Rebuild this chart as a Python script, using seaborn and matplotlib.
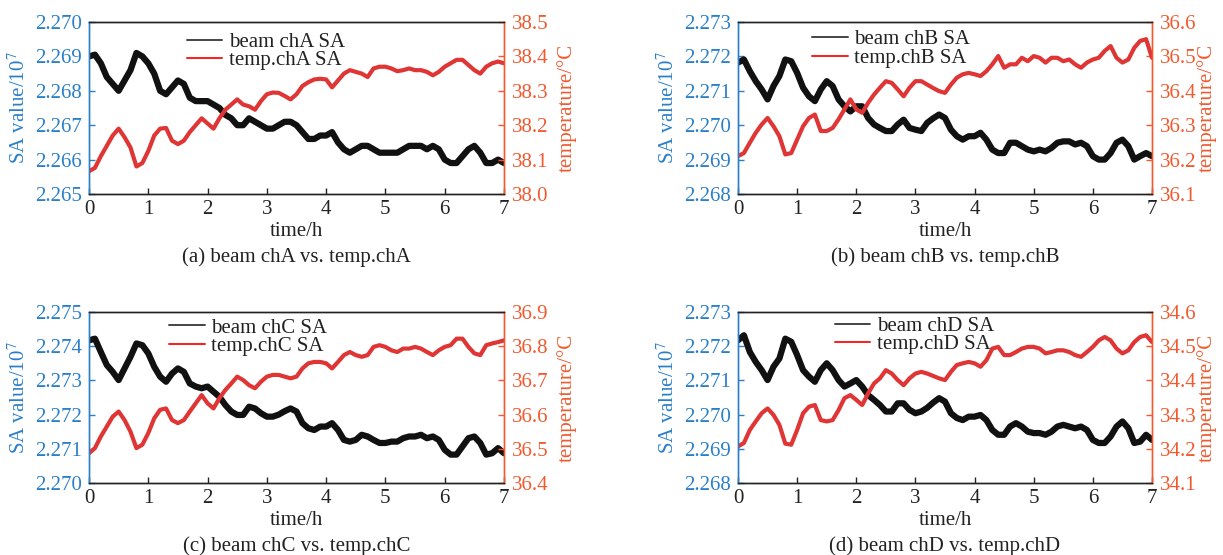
import numpy as np
import pandas as pd
import matplotlib
matplotlib.use("Agg")
import matplotlib.pyplot as plt
import seaborn as sns

# ---------------- data ----------------
time_h = np.round(np.arange(71) * 0.1, 1)

sa_chA = [2.2690, 2.26905, 2.2688, 2.2684, 2.2682, 2.2680, 2.2683, 2.2686, 2.2691, 2.2690,
          2.2688, 2.2685, 2.2680, 2.2679, 2.2681, 2.2683, 2.2682, 2.2678, 2.2677, 2.2677,
          2.2677, 2.2676, 2.2675, 2.2673, 2.2672, 2.2670, 2.2670, 2.2672, 2.2671, 2.2670,
          2.2669, 2.2669, 2.2670, 2.2671, 2.2671, 2.2670, 2.2668, 2.2666, 2.2666, 2.2667,
          2.2667, 2.2668, 2.2665, 2.2663, 2.2662, 2.2663, 2.2664, 2.2664, 2.2663, 2.2662,
          2.2662, 2.2662, 2.2662, 2.2663, 2.2664, 2.2664, 2.2664, 2.2663, 2.2664, 2.2663,
          2.2660, 2.2659, 2.2659, 2.2661, 2.2663, 2.2664, 2.2662, 2.2659, 2.2659, 2.2660,
          2.2659]
temp_chA = [38.066, 38.076, 38.110, 38.140, 38.170, 38.190, 38.165, 38.135, 38.080, 38.090,
            38.125, 38.170, 38.190, 38.192, 38.155, 38.145, 38.155, 38.180, 38.200, 38.220,
            38.205, 38.190, 38.220, 38.245, 38.260, 38.275, 38.260, 38.255, 38.245, 38.270,
            38.290, 38.295, 38.294, 38.285, 38.275, 38.290, 38.314, 38.325, 38.333, 38.335,
            38.333, 38.310, 38.330, 38.350, 38.360, 38.355, 38.350, 38.340, 38.365, 38.370,
            38.370, 38.365, 38.357, 38.360, 38.365, 38.360, 38.360, 38.355, 38.345, 38.355,
            38.370, 38.380, 38.390, 38.390, 38.375, 38.360, 38.350, 38.370, 38.380, 38.385,
            38.380]

sa_chB = [2.27182, 2.27191, 2.27157, 2.27128, 2.27104, 2.27075, 2.27114, 2.27143, 2.27191, 2.27186,
          2.27152, 2.27109, 2.27084, 2.27070, 2.27104, 2.27128, 2.27114, 2.27075, 2.27055, 2.27040,
          2.27055, 2.27055, 2.27021, 2.27002, 2.26992, 2.26983, 2.26983, 2.27002, 2.27016, 2.26992,
          2.26987, 2.26983, 2.27007, 2.27020, 2.27031, 2.27021, 2.26987, 2.26968, 2.26958, 2.26968,
          2.26968, 2.26978, 2.26958, 2.26929, 2.26919, 2.26919, 2.26949, 2.26949, 2.26939, 2.26929,
          2.26924, 2.26929, 2.26924, 2.26934, 2.26949, 2.26953, 2.26953, 2.26944, 2.26949, 2.26939,
          2.26910, 2.26900, 2.26900, 2.26919, 2.26949, 2.26958, 2.26939, 2.26900, 2.26910, 2.26919,
          2.26910]
temp_chB = [36.210, 36.219, 36.249, 36.278, 36.302, 36.321, 36.297, 36.268, 36.215, 36.219,
            36.258, 36.297, 36.321, 36.331, 36.283, 36.283, 36.292, 36.317, 36.346, 36.375,
            36.346, 36.336, 36.365, 36.389, 36.409, 36.428, 36.423, 36.404, 36.384, 36.409,
            36.428, 36.428, 36.418, 36.408, 36.399, 36.394, 36.418, 36.438, 36.448, 36.452,
            36.448, 36.443, 36.457, 36.477, 36.501, 36.467, 36.477, 36.477, 36.496, 36.486,
            36.501, 36.496, 36.482, 36.496, 36.496, 36.486, 36.491, 36.477, 36.467, 36.482,
            36.491, 36.496, 36.516, 36.530, 36.496, 36.482, 36.491, 36.525, 36.545, 36.550,
            36.496]

sa_chC = [2.27417, 2.27422, 2.27383, 2.27345, 2.27325, 2.27301, 2.27335, 2.27369, 2.27408, 2.27403,
          2.27379, 2.27340, 2.27311, 2.27296, 2.27320, 2.27335, 2.27325, 2.27291, 2.27282, 2.27277,
          2.27282, 2.27267, 2.27252, 2.27228, 2.27209, 2.27199, 2.27199, 2.27223, 2.27218, 2.27204,
          2.27194, 2.27194, 2.27200, 2.27210, 2.27218, 2.27209, 2.27175, 2.27160, 2.27155, 2.27165,
          2.27165, 2.27175, 2.27155, 2.27126, 2.27121, 2.27126, 2.27141, 2.27136, 2.27126, 2.27117,
          2.27117, 2.27121, 2.27121, 2.27131, 2.27136, 2.27136, 2.27141, 2.27131, 2.27136, 2.27126,
          2.27097, 2.27083, 2.27083, 2.27107, 2.27131, 2.27136, 2.27117, 2.27083, 2.27087, 2.27102,
          2.27087]
temp_chC = [36.487, 36.502, 36.536, 36.565, 36.594, 36.609, 36.584, 36.550, 36.502, 36.512,
            36.546, 36.589, 36.614, 36.618, 36.584, 36.575, 36.584, 36.609, 36.633, 36.657,
            36.633, 36.618, 36.648, 36.672, 36.691, 36.711, 36.701, 36.686, 36.677, 36.696,
            36.711, 36.716, 36.716, 36.711, 36.706, 36.711, 36.735, 36.750, 36.754, 36.754,
            36.750, 36.735, 36.754, 36.774, 36.783, 36.774, 36.769, 36.774, 36.798, 36.803,
            36.798, 36.788, 36.783, 36.793, 36.793, 36.798, 36.793, 36.783, 36.774, 36.788,
            36.798, 36.803, 36.822, 36.822, 36.798, 36.779, 36.774, 36.803, 36.808, 36.812,
            36.817]

sa_chD = [2.27217, 2.27232, 2.27183, 2.27154, 2.27130, 2.27101, 2.27140, 2.27164, 2.27222, 2.27213,
          2.27174, 2.27130, 2.27111, 2.27096, 2.27130, 2.27150, 2.27130, 2.27101, 2.27082, 2.27091,
          2.27101, 2.27082, 2.27057, 2.27043, 2.27028, 2.27009, 2.27009, 2.27033, 2.27033, 2.27014,
          2.27004, 2.27009, 2.27020, 2.27035, 2.27048, 2.27038, 2.27004, 2.26990, 2.26984, 2.26994,
          2.26994, 2.26999, 2.26984, 2.26955, 2.26941, 2.26941, 2.26965, 2.26975, 2.26965, 2.26950,
          2.26946, 2.26946, 2.26941, 2.26950, 2.26965, 2.26970, 2.26965, 2.26960, 2.26965, 2.26955,
          2.26926, 2.26917, 2.26917, 2.26936, 2.26965, 2.26980, 2.26960, 2.26917, 2.26921, 2.26941,
          2.26926]
temp_chD = [34.207, 34.217, 34.255, 34.280, 34.304, 34.318, 34.299, 34.270, 34.215, 34.212,
            34.255, 34.304, 34.323, 34.328, 34.284, 34.280, 34.284, 34.313, 34.348, 34.357,
            34.343, 34.328, 34.362, 34.391, 34.406, 34.430, 34.420, 34.401, 34.386, 34.406,
            34.420, 34.425, 34.420, 34.413, 34.406, 34.401, 34.425, 34.445, 34.450, 34.454,
            34.450, 34.440, 34.459, 34.493, 34.498, 34.474, 34.474, 34.483, 34.493, 34.498,
            34.498, 34.493, 34.479, 34.483, 34.488, 34.488, 34.483, 34.474, 34.469, 34.483,
            34.498, 34.517, 34.527, 34.517, 34.493, 34.479, 34.488, 34.512, 34.527, 34.532,
            34.512]

channels = ["chA", "chB", "chC", "chD"]
panel_letters = ["a", "b", "c", "d"]
sa_series = [sa_chA, sa_chB, sa_chC, sa_chD]
temp_series = [temp_chA, temp_chB, temp_chC, temp_chD]
sa_limits = [(2.265, 2.270), (2.268, 2.273), (2.270, 2.275), (2.268, 2.273)]
temp_limits = [(38.0, 38.5), (36.1, 36.6), (36.4, 36.9), (34.1, 34.6)]
x_ticks = [0, 1, 2, 3, 4, 5, 6, 7]

# ---------------- style ----------------
sns.set_theme(style="white")
plt.rcParams["font.family"] = ["Liberation Serif", "DejaVu Serif"]
plt.rcParams["mathtext.fontset"] = "stix"

BLUE = "#2a7fc9"
ORANGE = "#f2592e"
RED = "#e03535"
BLACK = "#111111"
FS = 15

fig = plt.figure(figsize=(12.23, 5.55), dpi=100)

# axes rectangles [left, bottom, width, height] in figure fraction
rects = [
    [89 / 1223, 1 - 194 / 555, 415 / 1223, 172 / 555],
    [738 / 1223, 1 - 194 / 555, 414 / 1223, 172 / 555],
    [89 / 1223, 1 - 483 / 555, 415 / 1223, 171 / 555],
    [738 / 1223, 1 - 483 / 555, 414 / 1223, 171 / 555],
]
legend_anchor = [(0.236, 0.94), (0.179, 0.955), (0.193, 0.965), (0.234, 0.975)]
right_label_x = [1.152, 1.133, 1.152, 1.133]

for i in range(4):
    ax = fig.add_axes(rects[i])
    ax2 = ax.twinx()
    ch = channels[i]
    df = pd.DataFrame({"time": time_h, "sa": sa_series[i], "temp": temp_series[i]})

    sns.lineplot(data=df, x="time", y="sa", ax=ax, color=BLACK, lw=4.5,
                 estimator=None, label=f"beam {ch} SA", legend=False)
    sns.lineplot(data=df, x="time", y="temp", ax=ax2, color=RED, lw=3.0,
                 estimator=None, label=f"temp.{ch} SA", legend=False)

    ax.set_xlim(0, 7)
    ax.set_ylim(*sa_limits[i])
    ax2.set_ylim(*temp_limits[i])
    ax.set_xticks(x_ticks)
    lo, hi = sa_limits[i]
    ax.set_yticks(np.round(np.linspace(lo, hi, 6), 3))
    ax.yaxis.set_major_formatter(matplotlib.ticker.FormatStrFormatter("%.3f"))
    tlo, thi = temp_limits[i]
    ax2.set_yticks(np.round(np.linspace(tlo, thi, 6), 1))
    ax2.yaxis.set_major_formatter(matplotlib.ticker.FormatStrFormatter("%.1f"))

    # spines
    for a in (ax, ax2):
        a.spines["top"].set_color("#222222")
        a.spines["bottom"].set_color("#222222")
        a.spines["left"].set_color(BLUE)
        a.spines["right"].set_color(ORANGE)
        for s in a.spines.values():
            s.set_linewidth(1.0)

    ax.tick_params(axis="x", direction="in", length=4, width=1, colors="#222222",
                   labelsize=FS, pad=4, top=False, bottom=True)
    ax.tick_params(axis="y", direction="in", length=4, width=1, colors=BLUE,
                   labelsize=FS, pad=5, left=True)
    ax2.tick_params(axis="y", direction="in", length=4, width=1, colors=ORANGE,
                    labelsize=FS, pad=6, right=True)

    ax.set_xlabel("time/h", fontsize=FS, color="#222222")
    ax.xaxis.label.set_va("center")
    ax.xaxis.set_label_coords(0.5, -38 / 172)
    ax.set_ylabel("SA value/10$^{7}$", fontsize=FS, color=BLUE)
    ax.yaxis.label.set_va("center")
    ax.yaxis.set_label_coords(-0.168, 0.5)
    ax2.set_ylabel("temperature/°C", fontsize=FS, color=ORANGE, rotation=90)
    ax2.yaxis.label.set_va("center")
    ax2.yaxis.set_label_coords(right_label_x[i], 0.5)

    ax.text(0.5, -63 / 172, f"({panel_letters[i]}) beam {ch} vs. temp.{ch}",
            transform=ax.transAxes, ha="center", va="center", fontsize=FS, color="#222222")

    handles = ax.get_lines()[:1] + ax2.get_lines()[:1]
    labels = [h.get_label() for h in handles]
    leg = ax2.legend(handles, labels, loc="upper left", bbox_to_anchor=legend_anchor[i],
                     frameon=False, fontsize=FS, handlelength=1.7, handletextpad=0.3,
                     labelspacing=-0.05, borderpad=0, borderaxespad=0)
    for ln, col in zip(leg.get_lines(), ["#444444", "#ff1a1a"]):
        ln.set_linewidth(1.4)
        ln.set_color(col)
    for t in leg.get_texts():
        t.set_color("#222222")

fig.savefig("out.png", dpi=100)
